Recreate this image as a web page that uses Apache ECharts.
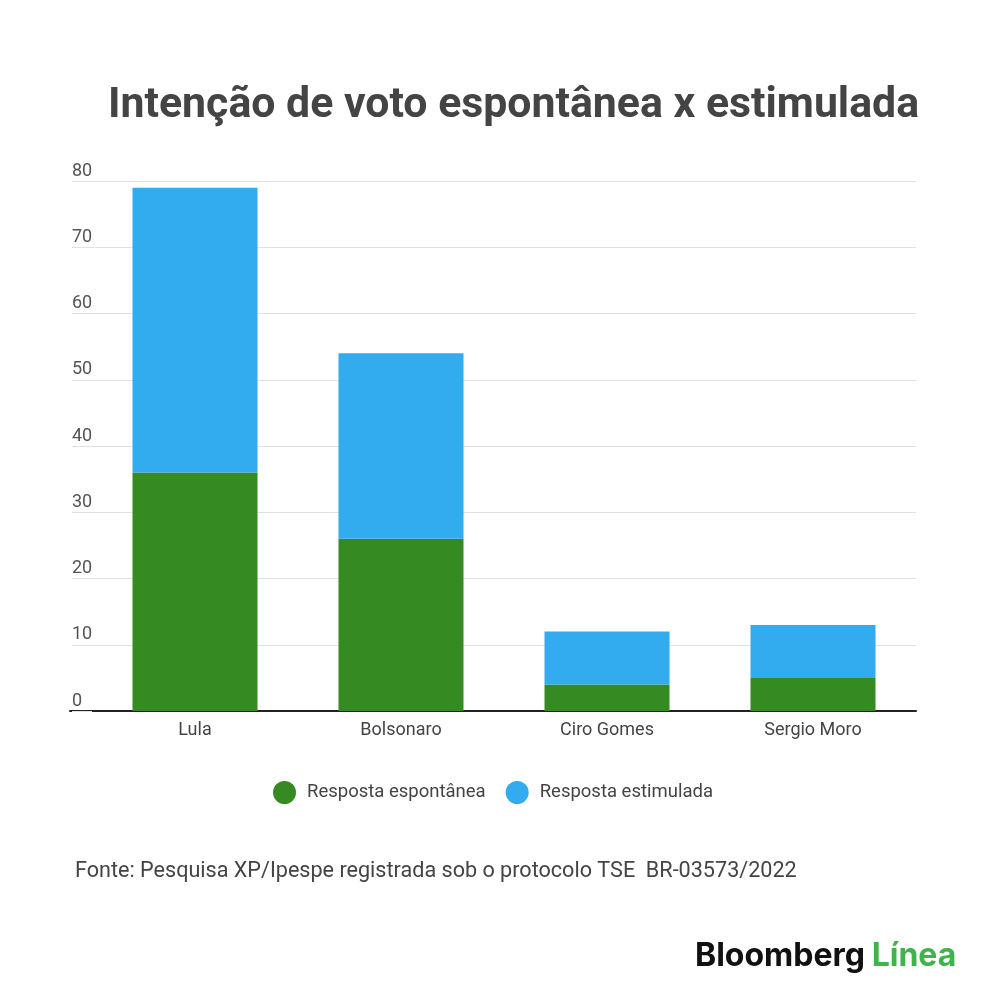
<!DOCTYPE html>
<html>
<head>
<meta charset="utf-8">
<script src="https://cdn.jsdelivr.net/npm/echarts@6/dist/echarts.min.js"></script>
<style>
  html, body { margin: 0; padding: 0; background: #fff; }
  #chart { width: 1000px; height: 997px; }
</style>
</head>
<body>
<div id="chart"></div>
<script>
// dados
var candidatos = ['Lula', 'Bolsonaro', 'Ciro Gomes', 'Sergio Moro'];
var espontanea = [36, 26, 4, 5];
// parte estimulada empilhada sobre a espontânea
var estimulada = [43, 28, 8, 8];
var serieNomes = ['Resposta espontânea', 'Resposta estimulada'];

var FONT = 'Roboto, "Noto Sans", sans-serif';
var myChart = echarts.init(document.getElementById('chart'));

var option = {
    backgroundColor: '#ffffff',
    animation: false,
    title: {
        text: 'Intenção de voto espontânea x estimulada',
        left: 103,
        top: 80,
        textStyle: {
            fontFamily: FONT,
            fontSize: 42.8,
            fontWeight: 'bold',
            color: '#444444'
        }
    },
    legend: {
        data: serieNomes,
        left: 268,
        top: 776,
        icon: 'circle',
        itemWidth: 23,
        itemHeight: 23,
        itemGap: 20,
        textStyle: {
            fontFamily: FONT,
            fontSize: 18.5,
            color: '#444444',
            padding: [0, 0, 0, 6]
        }
    },
    grid: [{
        left: 92,
        right: 84,
        top: 181,
        bottom: 286
    }, {
        // só para a linha de base preta que vai até os rótulos
        left: 70,
        right: 84,
        top: 181,
        bottom: 286
    }],
    xAxis: [{
        type: 'category',
        data: candidatos,
        axisLine: { show: false },
        axisTick: { show: false },
        axisLabel: {
            fontFamily: FONT,
            fontSize: 18,
            color: '#444444',
            margin: 10
        }
    }, {
        type: 'category',
        gridIndex: 1,
        data: [''],
        axisLine: { show: true, lineStyle: { color: '#222222', width: 2 } },
        axisTick: { show: false },
        axisLabel: { show: false }
    }],
    yAxis: [{
        type: 'value',
        min: 0,
        max: 80,
        interval: 10,
        axisLine: { show: false },
        // ticks para estender as linhas de grade até os rótulos
        axisTick: { show: true, length: 20, lineStyle: { color: '#e0e0e0' } },
        splitLine: { lineStyle: { color: '#e0e0e0' } },
        axisLabel: {
            fontFamily: FONT,
            fontSize: 18,
            color: '#555555',
            align: 'left',
            verticalAlign: 'bottom',
            margin: 20,
            padding: [0, 0, 1, 0]
        }
    }, {
        type: 'value',
        gridIndex: 1,
        min: 0,
        max: 80,
        show: false
    }],
    series: [{
        name: serieNomes[0],
        type: 'bar',
        stack: 'total',
        barWidth: 125,
        itemStyle: { color: '#358a22' },
        data: espontanea
    }, {
        name: serieNomes[1],
        type: 'bar',
        stack: 'total',
        barWidth: 125,
        itemStyle: { color: '#32acee' },
        data: estimulada
    }],
    graphic: [{
        type: 'text',
        left: 75,
        top: 861,
        style: {
            text: 'Fonte: Pesquisa XP/Ipespe registrada sob o protocolo TSE  BR-03573/2022',
            fontFamily: FONT,
            fontSize: 21.6,
            fill: '#444444'
        }
    }, {
        type: 'text',
        left: 695,
        top: 940,
        style: {
            rich: {
                b: { fontFamily: 'Inter, Roboto, sans-serif', fontSize: 32, fontWeight: 'bold', fill: '#111111' },
                l: { fontFamily: 'Inter, Roboto, sans-serif', fontSize: 32, fontWeight: 'bold', fill: '#3db54a' }
            },
            text: '{b|Bloomberg}  {l|Línea}'
        }
    }]
};

myChart.setOption(option);
</script>
</body>
</html>
